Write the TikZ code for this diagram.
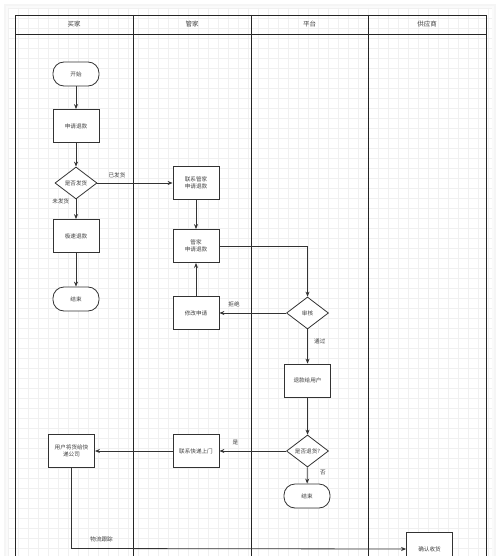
\documentclass[tikz,border=0pt]{standalone}
\usepackage{fontspec}
\newfontfamily\cjk{Noto Sans CJK SC}
\usetikzlibrary{shapes.geometric,arrows.meta}
\tikzset{
  base/.style={draw=black!80, line width=0.8pt, fill=white, font=\cjk\fontsize{5.6}{7}\selectfont, text=black!75, align=center, inner sep=1pt},
  procbox/.style={base, rectangle, minimum width=46pt, minimum height=33pt},
  termbox/.style={base, rectangle, rounded corners=11pt, minimum width=46pt, minimum height=24pt},
  decbox/.style={base, diamond, minimum width=42pt, minimum height=32pt, inner sep=0pt},
  hdr/.style={font=\cjk\fontsize{6.5}{8}\selectfont, text=black!75},
  lbl/.style={font=\cjk\fontsize{5.6}{7}\selectfont, text=black!75},
  flow/.style={draw=black!80, line width=0.8pt, -{Stealth[length=5pt,width=4pt]}},
  lane/.style={draw=black!85, line width=0.9pt}
}
\begin{document}
\begin{tikzpicture}[x=1pt,y=-1pt]
\useasboundingbox (0,0) rectangle (500,556);
\clip (0,0) rectangle (500,556);
% paper and shadow
\fill[white] (0,0) rectangle (500,556);
\fill[black!4] (4,4) rectangle (496,556);
\fill[black!2] (6,6) rectangle (494,556);
\fill[white] (8,8) rectangle (492,556);
\foreach \x in {8,18,...,488} \draw[black!6, line width=0.3pt] (\x,8) -- (\x,556);
\foreach \y in {8,18,...,556} \draw[black!6, line width=0.3pt] (8,\y) -- (492,\y);
% swimlanes
\draw[lane] (15,560) -- (15,15) -- (486,15) -- (486,560);
\draw[lane] (15,34) -- (486,34);
\draw[lane] (133,15) -- (133,560);
\draw[lane] (251,15) -- (251,560);
\draw[lane] (368,15) -- (368,560);
\node[hdr] (h1) at (74,24.5) {买家};
\node[hdr] (h2) at (192,24.5) {管家};
\node[hdr] (h3) at (309.5,24.5) {平台};
\node[hdr] (h4) at (427,24.5) {供应商};
% nodes
\node[termbox] (start) at (76,74) {开始};
\node[procbox] (apply) at (76,126) {申请退款};
\node[decbox] (shipped) at (76,183) {是否发货};
\node[procbox] (fast) at (76,236) {极速退款};
\node[termbox] (end1) at (76,299) {结束};
\node[procbox] (contact) at (196,183) {联系管家\\申请退款};
\node[procbox] (steward) at (196,246) {管家\\申请退款};
\node[procbox] (modify) at (196,313) {修改申请};
\node[decbox] (review) at (307.5,313) {审核};
\node[procbox] (refund) at (307.5,380.5) {退款给用户};
\node[decbox] (ret) at (307.5,451) {是否退货?};
\node[termbox] (end2) at (307,496) {结束};
\node[procbox] (courier) at (196,451) {联系快递上门};
\node[procbox] (give) at (71.5,451) {用户将货给快\\递公司};
\node[procbox] (confirm) at (429.5,549) {确认收货};
% connectors
\draw[flow] (start) -- (apply);
\draw[flow] (apply) -- (shipped);
\draw[flow] (shipped) -- node[lbl, pos=0.1, left=3pt] {未发货} (fast);
\draw[flow] (fast) -- (end1);
\draw[flow] (shipped) -- node[lbl, pos=0.26, above=1pt] {已发货} (contact);
\draw[flow] (contact) -- (steward);
\draw[flow] (steward.east) -| (review.north);
\draw[flow] (review) -- node[lbl, pos=0.78, above=2pt] {拒绝} (modify);
\draw[flow] (modify) -- (steward);
\draw[flow] (review) -- node[lbl, pos=0.35, right=3pt] {通过} (refund);
\draw[flow] (refund) -- (ret);
\draw[flow] (ret) -- node[lbl, pos=0.3, right=9pt] {否} (end2);
\draw[flow] (ret) -- node[lbl, pos=0.76, above=2pt] {是} (courier);
\draw[flow] (courier) -- (give);
\coordinate (corner) at (71.5,548.5);
\draw[flow] (give.south) -- (corner) -- node[lbl, pos=0.09, above=3pt] {物流跟踪} (confirm.west);
\end{tikzpicture}
\end{document}
